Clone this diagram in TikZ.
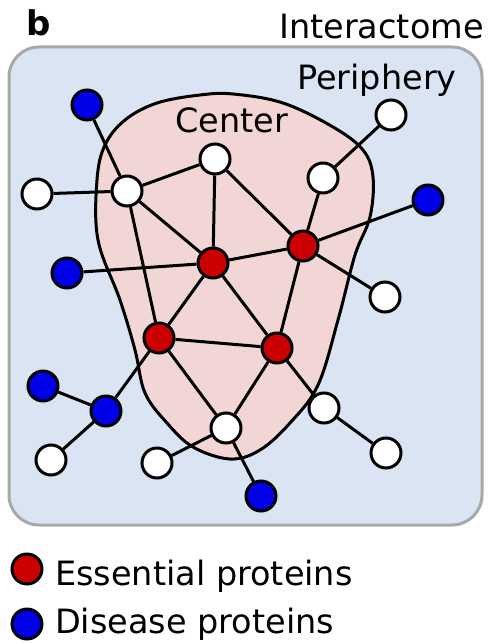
\documentclass[tikz,border=0pt]{standalone}
\usepackage{fontspec}
\setmainfont{DejaVu Sans}
\definecolor{boxfill}{HTML}{DAE4F3}
\definecolor{boxline}{HTML}{A8A8A8}
\definecolor{blobfill}{HTML}{F2D6D6}
\definecolor{ess}{HTML}{CC0000}
\definecolor{dis}{HTML}{0000E6}
\tikzset{
  prot/.style={circle,draw=black,line width=3pt,minimum size=30pt,inner sep=0pt},
  wprot/.style={prot,fill=white},
  eprot/.style={prot,fill=ess},
  dprot/.style={prot,fill=dis},
  link/.style={line width=3pt},
  lbl/.style={inner sep=0pt,font=\fontsize{33.5}{40}\selectfont}
}
\begin{document}
\begin{tikzpicture}[x=1pt,y=-1pt]
\useasboundingbox (0,0) rectangle (487,644);
% interactome box
\draw[boxline,fill=boxfill,line width=3pt,rounded corners=30pt] (9,47) rectangle (482,525);
% center blob
\draw[fill=blobfill,line width=3pt] plot[smooth cycle,tension=0.6] coordinates {
 (233,94) (283,103) (333,127) (363,150) (373,177) (370,217) (355,255) (338,320) (318,385) (290,423) (260,450) (230,459)
 (193,447) (167,423) (145,393) (135,350) (120,300) (98,240) (97,180) (105,145) (125,120) (157,103) (200,95)};
% labels
\node[lbl,anchor=base west,font=\fontsize{34}{40}\selectfont\bfseries] (b) at (26,36) {b};
\node[lbl,anchor=base east] (inter) at (484,39) {Interactome};
\node[lbl,anchor=base west] (peri) at (297,90) {Periphery};
\node[lbl,anchor=base west] (cent) at (175,133) {Center};
% proteins
\node[dprot] (d1) at (87,105) {};
\node[wprot] (w1) at (391,115) {};
\node[wprot] (w2) at (215,159) {};
\node[wprot] (w3) at (37,194) {};
\node[wprot] (hub) at (127,191) {};
\node[wprot] (w4) at (323,178) {};
\node[dprot] (d2) at (428,200) {};
\node[eprot] (e1) at (303,246) {};
\node[eprot] (e2) at (213,263) {};
\node[dprot] (d3) at (67,273) {};
\node[wprot] (w5) at (385,297) {};
\node[eprot] (e3) at (159,338) {};
\node[eprot] (e4) at (277,348) {};
\node[dprot] (d4) at (43,386) {};
\node[dprot] (d5) at (106,411) {};
\node[wprot] (w6) at (324,408) {};
\node[wprot] (w7) at (226,428) {};
\node[wprot] (w8) at (51,460) {};
\node[wprot] (w9) at (157,463) {};
\node[wprot] (w10) at (386,453) {};
\node[dprot] (d6) at (261,496) {};
% links
\draw[link] (d1) -- (hub);
\draw[link] (w3) -- (hub);
\draw[link] (hub) -- (w2);
\draw[link] (hub) -- (e2);
\draw[link] (hub) -- (e3);
\draw[link] (w2) -- (e2);
\draw[link] (w2) -- (e1);
\draw[link] (w4) -- (w1);
\draw[link] (w4) -- (e1);
\draw[link] (e1) -- (d2);
\draw[link] (e1) -- (e2);
\draw[link] (d3) -- (e2);
\draw[link] (e1) -- (w5);
\draw[link] (e2) -- (e3);
\draw[link] (e2) -- (e4);
\draw[link] (e1) -- (e4);
\draw[link] (e3) -- (e4);
\draw[link] (e3) -- (d5);
\draw[link] (d4) -- (d5);
\draw[link] (d5) -- (w8);
\draw[link] (e3) -- (w7);
\draw[link] (e4) -- (w7);
\draw[link] (e4) -- (w6);
\draw[link] (w6) -- (w10);
\draw[link] (w7) -- (w9);
\draw[link] (w7) -- (d6);
% legend
\node[eprot] (le) at (27,569) {};
\node[dprot] (ld) at (27,624) {};
\node[lbl,anchor=base west] (lte) at (55,585) {Essential proteins};
\node[lbl,anchor=base west] (ltd) at (55,633) {Disease proteins};
\end{tikzpicture}
\end{document}
